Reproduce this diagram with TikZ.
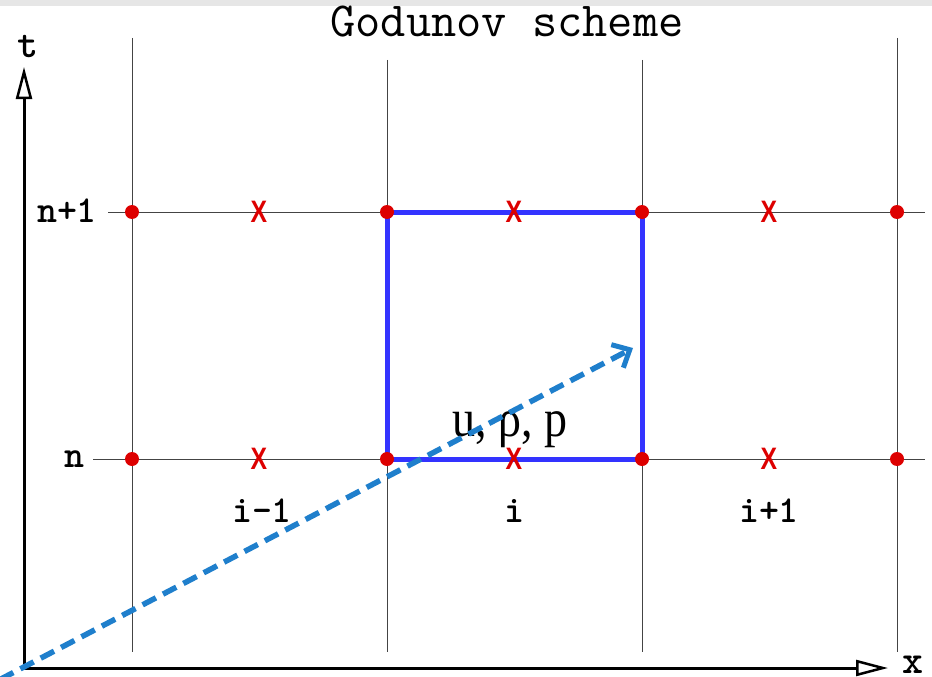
\documentclass[tikz,border=0pt]{standalone}
\usepackage{fontspec}
\newfontfamily\labelserif{Liberation Serif}
\newfontfamily\marksans{Liberation Sans}
\usetikzlibrary{arrows.meta,backgrounds}

\definecolor{gridgray}{HTML}{444444}
\definecolor{dotred}{HTML}{DD0000}
\definecolor{cellblue}{HTML}{3333FF}
\definecolor{wavecyan}{HTML}{1F7FCC}
\definecolor{bandgray}{HTML}{E6E6E6}

\begin{document}
\begin{tikzpicture}[x=1pt, y=-1pt,
  gridline/.style={draw=gridgray, line width=1pt},
  nodedot/.style={circle, fill=dotred, inner sep=0pt, minimum size=14pt},
  cellmark/.style={text=dotred, inner sep=0pt, xscale=0.8, font=\marksans\bfseries\fontsize{31}{31}\selectfont},
  idxlabel/.style={anchor=base, inner sep=0pt, font=\ttfamily\bfseries\fontsize{38}{38}\selectfont},
  axislabel/.style={anchor=base, inner sep=0pt, font=\ttfamily\bfseries\fontsize{40}{40}\selectfont},
  axis/.style={line width=3pt, -{Triangle[open, length=32pt, width=16pt, line width=2.5pt]}},
  wave/.style={draw=wavecyan, line width=5.5pt, dash pattern=on 15pt off 8pt, -{Straight Barb[length=14pt, width=26pt, line width=5pt]}}]
\useasboundingbox (0,0) rectangle (932,677);
\begin{scope}[on background layer]
\fill[white] (0,0) rectangle (932,677);
\fill[bandgray] (0,0) rectangle (932,6);
% Grid
\draw[gridline] (132,38) -- (132,652);
\draw[gridline] (387,60) -- (387,652);
\draw[gridline] (642,60) -- (642,652);
\draw[gridline] (897,38) -- (897,652);
\draw[gridline] (108,212) -- (925,212);
\draw[gridline] (93,459) -- (925,459);
\end{scope}

% Title
\node[anchor=base, inner sep=0pt, font=\ttfamily\fontsize{49}{49}\selectfont] (title) at (507,37) {Godunov scheme};

% Axes
\coordinate (O) at (24,668);
\coordinate (tEnd) at (24,67);
\coordinate (xEnd) at (888,668);
\draw[axis] (O) -- (tEnd);
\draw[axis] (O) -- (xEnd);
\node[axislabel] (tlab) at (28,58) {t};
\node[axislabel] (xlab) at (913,673) {x};

% Grid points and cell centres
\foreach \i/\x in {1/132,2/387,3/642,4/897} {
  \node[nodedot] (hi\i) at (\x,212) {};
  \node[nodedot] (lo\i) at (\x,459) {};
}
\foreach \i/\x in {1/259,2/514,3/769} {
  \node[cellmark] (xhi\i) at (\x,212) {X};
  \node[cellmark] (xlo\i) at (\x,459) {X};
}

% Cell i
\begin{scope}[on background layer]
\draw[cellblue, line width=5pt, line join=miter] (lo2.center) -- (hi2.center) -- (hi3.center) -- (lo3.center) -- cycle;
\end{scope}

% Labels
\node[idxlabel] (lnext) at (67,222) {n+1};
\node[idxlabel] (lnow) at (74,467) {n};
\node[idxlabel] (cprev) at (262,522) {i-1};
\node[idxlabel] (ccur) at (514,522) {i};
\node[idxlabel] (cnext) at (769,522) {i+1};
\node[anchor=base, inner sep=0pt, yscale=1.15, font=\labelserif\fontsize{46}{46}\selectfont] (state) at (510,436) {u, ρ, p};

% Characteristic
\coordinate (wStart) at (0,679.5);
\coordinate (wTip) at (633,348);
\draw[wave] (wStart) -- (wTip);
\end{tikzpicture}
\end{document}
